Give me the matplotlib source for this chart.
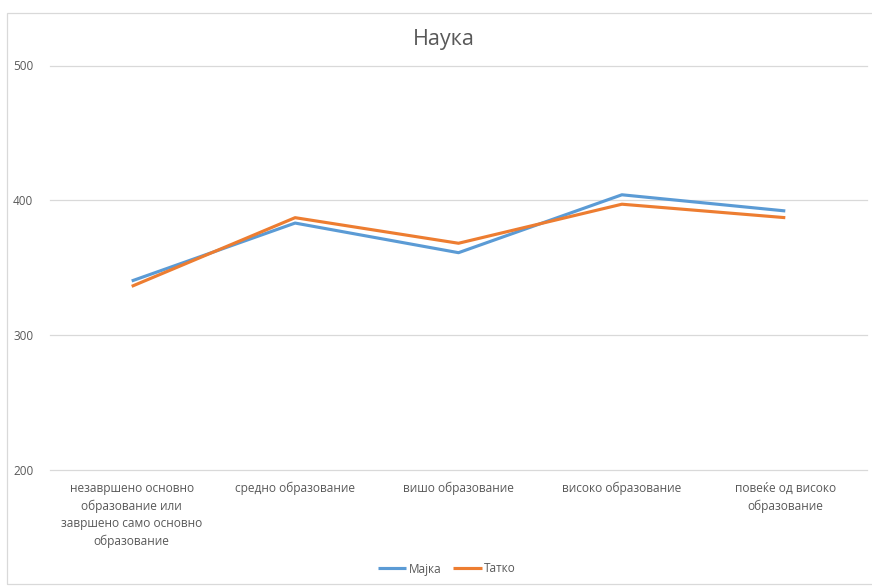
import matplotlib.pyplot as plt
from matplotlib.patches import Rectangle

plt.rcParams['font.family'] = ['Open Sans', 'DejaVu Sans']

categories = [
    "незавршено основно\nобразование или\nзавршено само основно\nобразование",
    "средно образование",
    "вишо образование",
    "високо образование",
    "повеќе од високо\nобразование",
]
majka = [340, 383, 361, 404, 392]
tatko = [336, 387, 368, 397, 387]
yticks = [200, 300, 400, 500]

text_col = "#595959"
grid_col = "#D9D9D9"

fig = plt.figure(figsize=(8.72, 5.86), dpi=100)
ax = fig.add_axes([50 / 872, 1 - 469.5 / 586, 817 / 872, (469.5 - 65.5) / 586])

x = list(range(len(categories)))
ax.plot(x, majka, color="#5B9BD5", lw=2.25, label="Мајка", solid_capstyle="butt")
ax.plot(x, tatko, color="#ED7D31", lw=2.25, label="Татко", solid_capstyle="butt")

ax.set_xlim(-0.5, len(categories) - 0.5)
ax.set_ylim(200, 500)
ax.set_yticks(yticks)
ax.set_yticklabels([str(v) for v in yticks])
ax.set_xticks(x)
ax.set_xticklabels(categories, linespacing=1.42)
ax.tick_params(axis="y", length=0, pad=12, labelsize=8.5, labelcolor=text_col)
ax.tick_params(axis="x", length=0, pad=9, labelsize=8.6, labelcolor=text_col)
ax.grid(axis="y", color=grid_col, lw=0.9)
for gl in ax.get_ygridlines():
    gl.set_clip_on(False)
ax.set_axisbelow(True)
for s in ax.spines.values():
    s.set_visible(False)

fig.text(0.5 + 8 / 872, 1 - 39 / 586, "Наука", ha="center", va="center",
         fontsize=15.5, color=text_col)

leg = fig.legend(loc="center", bbox_to_anchor=(447 / 872, 1 - 569 / 586), ncol=2,
                 frameon=False, fontsize=8.5, handlelength=2.4, handletextpad=0.2,
                 columnspacing=1.0)
for t in leg.get_texts():
    t.set_color(text_col)

fig.patches.append(Rectangle((7 / 872, 0.003), 1, 1 - 13 / 586 - 0.003, transform=fig.transFigure,
                             fill=False, edgecolor=grid_col, lw=0.9))

fig.savefig("out.png", dpi=100)
